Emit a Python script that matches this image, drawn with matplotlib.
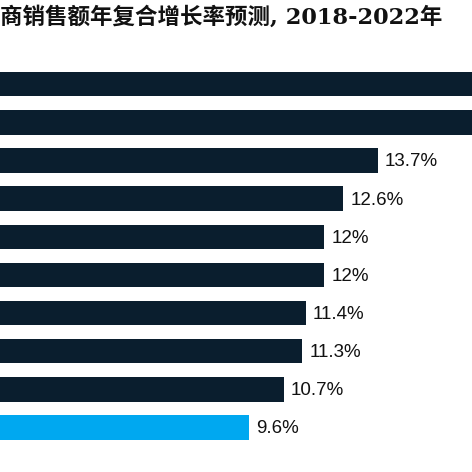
import matplotlib
matplotlib.use("Agg")
import matplotlib.pyplot as plt

# Data (top to bottom); first two bars run off the cropped right edge
values = [19.0, 17.5, 13.7, 12.6, 12.0, 12.0, 11.4, 11.3, 10.7, 9.6]
labels = ["", "", "13.7%", "12.6%", "12%", "12%", "11.4%", "11.3%", "10.7%", "9.6%"]
highlight = [False] * 9 + [True]
title = "商销售额年复合增长率预测, 2018-2022年"

DARK = "#0A1E2E"
BLUE = "#00A8F0"

W = H = 472
fig = plt.figure(figsize=(W / 100, H / 100), dpi=100)
ax = fig.add_axes([0, 0, 1, 1])

px_per_unit = 31.39
x0_px = -52.3
ax.set_xlim(-x0_px / px_per_unit, (W - x0_px) / px_per_unit)

spacing = 38.14
c0 = 84.2
ax.set_ylim((H - c0) / spacing, -c0 / spacing)

ypos = list(range(len(values)))
colors = [BLUE if h else DARK for h in highlight]
ax.barh(ypos, values, height=24.4 / spacing, color=colors, left=0)

for y, v, lab in zip(ypos, values, labels):
    if lab:
        ax.annotate(lab, (v, y), xytext=(5, -1), textcoords="offset points",
                    ha="left", va="center", fontsize=13.5,
                    family=["Liberation Sans", "DejaVu Sans"], color="#111111")

ax.axis("off")

fig.text(0.0, 1 - 17 / H, title, ha="left", va="center", fontsize=16.2,
         fontweight="bold", family=["DejaVu Serif", "Noto Sans CJK SC"],
         color="#111111")

fig.savefig("out.png", dpi=100)
